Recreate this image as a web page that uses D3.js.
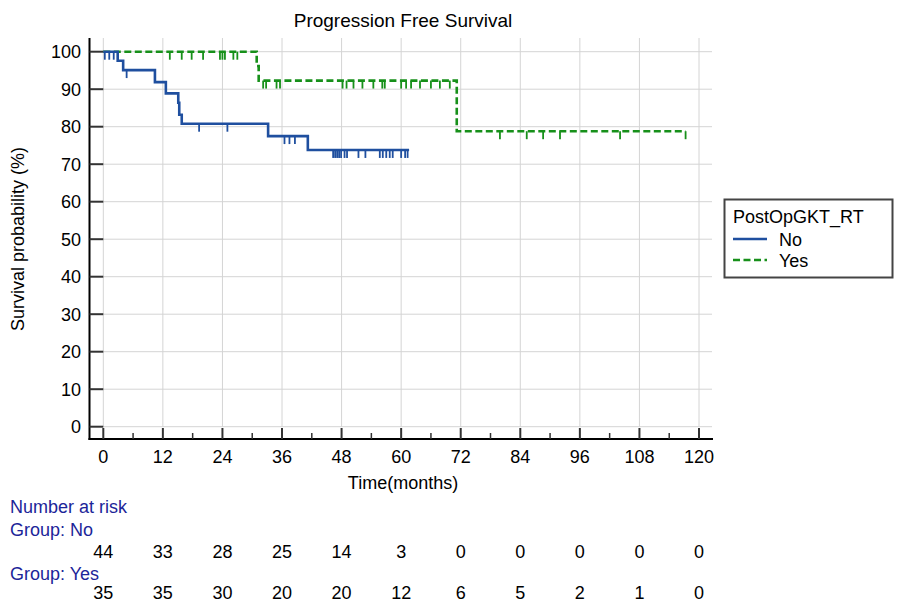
<!DOCTYPE html>
<html lang="en">
<head>
<meta charset="UTF-8">
<title>Progression Free Survival</title>
<script src="https://d3js.org/d3.v7.min.js"></script>
<style>
  body { margin: 0; background: #fff; }
  svg { font-family: "Liberation Sans", Arial, sans-serif; }
</style>
</head>
<body>
<div id="chart"></div>
<script>
// Kaplan-Meier steps: [time (months), survival % after the drop]
const noTimes = [2.9, 4.0, 10.4, 12.6, 15.1, 15.3, 15.8, 33.2, 41.2];
const noSurv = [97.6, 95.1, 91.9, 88.9, 86.4, 83.2, 80.8, 77.5, 73.8];
const noCensor = [0.3, 1.2, 2.1, 4.7, 19.3, 25.0, 36.5, 37.5, 38.6, 46.3, 46.7, 47.1, 47.5, 47.9,
  48.6, 49.1, 51.4, 52.8, 55.7, 56.3, 57.0, 57.7, 58.3, 60.0, 60.8, 61.3];
const noEnd = 61.6;

const yesTimes = [30.9, 31.3, 71.2];
const yesSurv = [96.2, 92.3, 78.8];
const yesCensor = [13.4, 15.8, 17.8, 20.1, 23.5, 24.0, 24.5, 26.2, 27.0, 32.2, 32.8, 34.9, 35.6,
  48.2, 49.0, 50.4, 52.2, 54.4, 56.2, 56.7, 60.0, 61.0, 62.0, 63.8, 66.0, 67.8, 69.8,
  79.9, 85.3, 88.6, 92.0, 104.1, 117.3];
const yesEnd = 117.3;

const riskTimes = [0, 12, 24, 36, 48, 60, 72, 84, 96, 108, 120];
const riskNo = [44, 33, 28, 25, 14, 3, 0, 0, 0, 0, 0];
const riskYes = [35, 35, 30, 20, 20, 12, 6, 5, 2, 1, 0];
const yTicks = [0, 10, 20, 30, 40, 50, 60, 70, 80, 90, 100];

const width = 898, height = 604;
const blue = "#1f4f9f", green = "#17901a", riskColor = "#1c2599";

const svg = d3.select("#chart").append("svg")
  .attr("width", width).attr("height", height);

const x = d3.scaleLinear().domain([0, 120]).range([103.3, 699]);
const y = d3.scaleLinear().domain([0, 100]).range([426.7, 51.7]);
const axisLeft = 89.5, axisBottom = 439, plotTop = 38, plotRight = 712;

// grid
svg.append("g").selectAll("line").data(riskTimes).join("line")
  .attr("x1", d => x(d)).attr("x2", d => x(d))
  .attr("y1", plotTop).attr("y2", y(0))
  .attr("stroke", "#d4d4d4").attr("stroke-width", 1);
svg.append("g").selectAll("line").data(yTicks).join("line")
  .attr("x1", x(0)).attr("x2", plotRight)
  .attr("y1", d => y(d)).attr("y2", d => y(d))
  .attr("stroke", "#d4d4d4").attr("stroke-width", 1);

// y axis (ticks point inward)
const yAxis = svg.append("g");
yAxis.append("line").attr("x1", axisLeft).attr("x2", axisLeft)
  .attr("y1", plotTop).attr("y2", axisBottom + 1)
  .attr("stroke", "#000").attr("stroke-width", 2);
yAxis.selectAll(".tk").data(yTicks).join("line")
  .attr("x1", axisLeft).attr("x2", x(0))
  .attr("y1", d => y(d)).attr("y2", d => y(d))
  .attr("stroke", "#333").attr("stroke-width", 2);
yAxis.selectAll("text").data(yTicks).join("text")
  .attr("x", 81).attr("y", d => y(d) + 6.5)
  .attr("text-anchor", "end").attr("font-size", 18).text(d => d);

// x axis
const xAxis = svg.append("g");
xAxis.append("line").attr("x1", axisLeft - 1).attr("x2", 713)
  .attr("y1", axisBottom).attr("y2", axisBottom)
  .attr("stroke", "#000").attr("stroke-width", 2);
xAxis.selectAll(".maj").data(riskTimes).join("line")
  .attr("x1", d => x(d)).attr("x2", d => x(d))
  .attr("y1", axisBottom).attr("y2", axisBottom - 11)
  .attr("stroke", "#333").attr("stroke-width", 2);
xAxis.selectAll(".min").data(d3.range(6, 120, 12)).join("line")
  .attr("x1", d => x(d)).attr("x2", d => x(d))
  .attr("y1", axisBottom).attr("y2", axisBottom - 6)
  .attr("stroke", "#333").attr("stroke-width", 1.5);
xAxis.selectAll("text").data(riskTimes).join("text")
  .attr("x", d => x(d)).attr("y", 463)
  .attr("text-anchor", "middle").attr("font-size", 18).text(d => d);

svg.append("text").attr("x", 403).attr("y", 489)
  .attr("text-anchor", "middle").attr("font-size", 18).text("Time(months)");
svg.append("text").attr("transform", "translate(24,239) rotate(-90)")
  .attr("text-anchor", "middle").attr("font-size", 18).text("Survival probability (%)");
svg.append("text").attr("x", 403).attr("y", 27)
  .attr("text-anchor", "middle").attr("font-size", 19).text("Progression Free Survival");

// step curves
function stepPoints(times, surv, end) {
  const pts = [[0, 100]];
  times.forEach((t, i) => pts.push([t, surv[i]]));
  pts.push([end, surv[surv.length - 1]]);
  return pts;
}
function survAt(times, surv, t) {
  let s = 100;
  times.forEach((ti, i) => { if (ti <= t) s = surv[i]; });
  return s;
}
const line = d3.line().x(d => x(d[0])).y(d => y(d[1])).curve(d3.curveStepAfter);

function drawGroup(times, surv, censor, end, color, dash) {
  const g = svg.append("g");
  g.append("path").datum(stepPoints(times, surv, end))
    .attr("d", line).attr("fill", "none")
    .attr("stroke", color).attr("stroke-width", 2.6)
    .attr("stroke-dasharray", dash);
  g.selectAll("line").data(censor).join("line")
    .attr("x1", d => x(d)).attr("x2", d => x(d))
    .attr("y1", d => y(survAt(times, surv, d)))
    .attr("y2", d => y(survAt(times, surv, d)) + 8)
    .attr("stroke", color).attr("stroke-width", 1.8);
}
drawGroup(yesTimes, yesSurv, yesCensor, yesEnd, green, "7,3.5");
drawGroup(noTimes, noSurv, noCensor, noEnd, blue, null);

// legend
const lg = svg.append("g");
lg.append("rect").attr("x", 724.5).attr("y", 199.5).attr("width", 168).attr("height", 78)
  .attr("fill", "#fff").attr("stroke", "#444").attr("stroke-width", 2);
lg.append("text").attr("x", 733).attr("y", 223).attr("font-size", 18).text("PostOpGKT_RT");
lg.append("line").attr("x1", 733).attr("x2", 767).attr("y1", 239).attr("y2", 239)
  .attr("stroke", blue).attr("stroke-width", 2.6);
lg.append("text").attr("x", 779).attr("y", 245.5).attr("font-size", 18).text("No");
lg.append("line").attr("x1", 733).attr("x2", 767).attr("y1", 260).attr("y2", 260)
  .attr("stroke", green).attr("stroke-width", 2.6).attr("stroke-dasharray", "7,3.5");
lg.append("text").attr("x", 779).attr("y", 266.5).attr("font-size", 18).text("Yes");

// number at risk table
const rt = svg.append("g").attr("font-size", 18);
rt.append("text").attr("x", 10).attr("y", 513).attr("fill", riskColor).text("Number at risk");
rt.append("text").attr("x", 10).attr("y", 536).attr("fill", riskColor).text("Group: No");
rt.append("text").attr("x", 10).attr("y", 580).attr("fill", riskColor).text("Group: Yes");
rt.selectAll(".rno").data(riskNo).join("text")
  .attr("x", (d, i) => x(riskTimes[i])).attr("y", 558)
  .attr("text-anchor", "middle").text(d => d);
rt.selectAll(".ryes").data(riskYes).join("text")
  .attr("x", (d, i) => x(riskTimes[i])).attr("y", 599)
  .attr("text-anchor", "middle").text(d => d);
</script>
</body>
</html>
